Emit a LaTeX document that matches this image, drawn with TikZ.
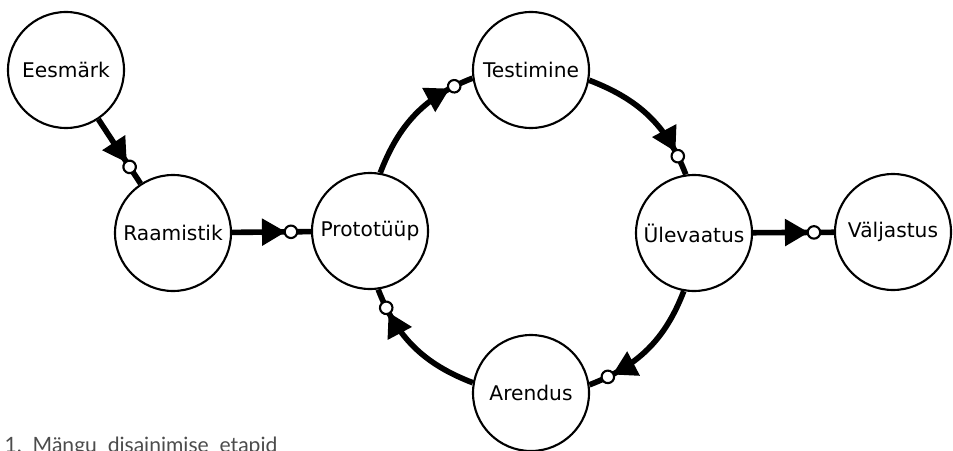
\documentclass[tikz,border=0pt]{standalone}
\usepackage{fontspec}
\setmainfont{DejaVu Sans}
\newfontfamily\capfont{Lato}
\usetikzlibrary{arrows.meta,decorations.markings}

\begin{document}
\begin{tikzpicture}[
  stage/.style={circle, draw, line width=1.2pt, minimum size=2.32cm,
    inner sep=0pt, font=\fontsize{11.5}{13}\selectfont},
  flow/.style={line width=3.2pt, postaction={decorate},
    decoration={markings,
      mark=at position -0.5cm with {\arrow{Triangle[length=0.48cm,width=0.52cm]}},
      mark=at position -0.4cm with {\draw[line width=1.2pt, fill=white] (0,0) circle (0.125cm);}}}
]
  \useasboundingbox (0,0) rectangle (19.06,9);
  \coordinate (E) at (1.32,7.60);
  \coordinate (R) at (3.46,4.34);
  \coordinate (P) at (7.40,4.38);
  \coordinate (T) at (10.62,7.60);
  \coordinate (U) at (13.88,4.34);
  \coordinate (V) at (17.86,4.36);
  \coordinate (A) at (10.62,1.14);

  \node[stage] (goal)    at (E) {Eesmärk};
  \node[stage] (frame)   at (R) {Raamistik};
  \node[stage] (proto)   at (P) {Prototüüp};
  \node[stage] (test)    at (T) {Testimine};
  \node[stage] (review)  at (U) {Ülevaatus};
  \node[stage] (release) at (V) {Väljastus};
  \node[stage] (develop) at (A) {Arendus};

  % lineaarne osa
  \draw[flow] (goal) -- (frame);
  \draw[flow] (frame) -- (proto);
  \draw[flow] (review) -- (release);

  % iteratsiooni ring
  \draw[flow] (proto.80) to[out=69, in=201] (test.188);
  \draw[flow] (test.-10) to[out=-21, in=111] (review.98);
  \draw[flow] (review.-100) to[out=-111, in=21] (develop.8);
  \draw[flow] (develop.170) to[out=159, in=-69] (proto.-82);

  \node[anchor=base west, text=black!70, font=\fontsize{12}{14}\selectfont]
    (caption) at (-0.03,-0.05) {\capfont 1.\ \ Mängu\ \ disainimise\ \ etapid};
\end{tikzpicture}
\end{document}
